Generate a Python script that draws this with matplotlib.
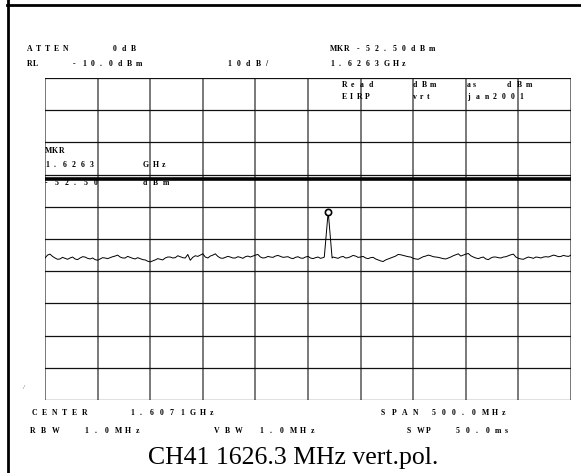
import numpy as np
import matplotlib
matplotlib.use("Agg")
import matplotlib.pyplot as plt
from matplotlib.lines import Line2D

# ---------------- data ----------------
center_mhz = 1607.1
span_mhz = 500.0
ref_level = -10.0
db_per_div = 10.0

# trace samples (coarse points)
noise_dbm = [
    -65.9, -64.7, -65.9, -66.2, -66.0, -65.9, -66.2, -65.9, -65.6, -66.2,
    -66.4, -66.2, -65.9, -65.8, -65.3, -65.6, -65.9, -65.7, -66.2, -66.1,
    -66.5, -67.1, -66.5, -66.3, -65.9, -65.6, -65.8, -65.5, -65.9, -66.6,
    -65.2, -65.0, -65.6, -65.3, -64.6, -65.9, -65.7, -65.6, -65.9, -65.7,
    -65.5, -65.6, -65.0, -65.6, -65.8, -65.6, -65.3, -65.4, -65.6, -65.9,
    -65.7, -65.9, -65.6, -65.9, -65.8, -66.0, -65.6, -65.9, -65.8, -65.6,
    -65.9, -65.5, -65.3, -65.6, -65.9, -65.8, -66.2, -66.8, -66.5, -65.9,
    -65.3, -64.9, -65.3, -65.6, -66.2, -65.9, -65.3, -65.2, -65.6, -65.9,
    -66.2, -65.6, -64.9, -65.3, -64.7, -65.2, -65.9, -65.8, -66.2, -65.9,
    -65.6, -65.9, -65.5, -64.9, -65.6, -66.2, -65.9, -65.8, -65.6, -65.9,
    -65.5, -65.3, -65.2, -65.4, -65.3, -65.0,
]
# trace samples in between the coarse points
noise_mid_dbm = [
    -65.0, -65.4, -66.3, -65.7, -66.3, -65.6, -66.4, -65.5, -66.0, -65.9,
    -66.6, -65.8, -66.1, -65.5, -65.0, -65.9, -65.4, -66.0, -65.8, -66.4,
    -66.9, -66.8, -66.1, -66.5, -65.6, -65.9, -65.2, -65.8, -64.8, -65.7,
    -65.4, -64.6, -65.9, -65.0, -65.4, -66.0, -65.4, -65.9, -65.5, -66.0,
    -65.3, -65.3, -64.8, -65.9, -65.4, -65.7, -65.1, -65.7, -65.5, -66.1,
    -65.5, -66.0, -65.4, -66.1, -65.6, -65.8, -65.7, -65.6, -66.0, -65.4,
    -65.8, -65.1, -65.7, -65.4, -66.1, -65.7, -66.5, -67.0, -66.2, -65.6,
    -64.8, -65.1, -65.5, -66.0, -66.3, -65.5, -65.0, -65.5, -65.7, -66.1,
    -65.9, -65.2, -64.6, -65.0, -64.5, -65.6, -66.1, -65.6, -66.4, -65.6,
    -65.8, -65.6, -65.2, -64.7, -66.0, -66.3, -65.6, -66.0, -65.7, -65.6,
    -65.6, -65.0, -65.5, -65.1, -65.4,
]
peak_freq = [1622.6, 1626.3, 1630.0]
peak_dbm = [-65.6, -51.5, -65.9]

marker_freq = 1626.3
display_line = -41.4

# ---------------- figure ----------------
W, H = 581, 473
fig = plt.figure(figsize=(W / 100, H / 100), dpi=100)

def px(x, y):
    return x / W, 1 - y / H

ax = fig.add_axes([45 / W, 1 - 400 / H, 526 / W, 322 / H])
f_lo = center_mhz - span_mhz / 2
f_hi = center_mhz + span_mhz / 2
ax.set_xlim(f_lo, f_hi)
ax.set_ylim(ref_level - 10 * db_per_div, ref_level)

# grid
for f in np.linspace(f_lo, f_hi, 11):
    ax.axvline(f, color="#555555", lw=1.1, zorder=1)
for l in np.linspace(ref_level - 10 * db_per_div, ref_level, 11):
    ax.axhline(l, color="#111111", lw=0.9, zorder=1)
ax.set_xticks([])
ax.set_yticks([])
for s in ax.spines.values():
    s.set_visible(False)

# display line
ax.axhline(display_line, color="black", lw=2.6, zorder=2)

# trace
full = []
for i, v in enumerate(noise_dbm):
    full.append(v)
    if i < len(noise_mid_dbm):
        full.append(noise_mid_dbm[i])
nf = np.linspace(f_lo, f_hi, len(full))
nd = np.array(full)
mask = (nf < peak_freq[0]) | (nf > peak_freq[-1])
tf = np.concatenate([nf[mask], peak_freq])
td = np.concatenate([nd[mask], peak_dbm])
order = np.argsort(tf)
ax.plot(tf[order], td[order], color="black", lw=0.7, zorder=3)

# marker
mk_level = max(peak_dbm)
ax.plot([marker_freq], [mk_level], marker="o", ms=4.5, mfc="white",
        mec="black", mew=1.2, zorder=4, clip_on=False)

# ---------------- texts ----------------
FS = 5.6
def st(x, y, s, pitch, fs=FS):
    for i, ch in enumerate(s):
        if ch == " ":
            continue
        fx, fy = px(x + i * pitch, y)
        fig.text(fx, fy, ch, fontsize=fs, family="Liberation Serif",
                 weight="bold", ha="left", va="center")

st(27, 49, "ATTEN", 9)
st(113, 49, "0dB", 9)
st(27, 64, "RL", 6)
st(73, 64, "-10.0dBm", 9)
st(227, 64, "10dB/", 9.5)
st(330, 49, "MKR", 7)
st(357, 49, "-52.50dBm", 9)
st(330, 64, "1.6263GHz", 9)

st(342, 85, "Read", 9)
st(413, 85, "dBm", 8.5)
st(467, 85, "as", 6)
st(507, 85, "dBm", 9.5)
st(342, 97, "EIRP", 7.5)
st(413, 97, "vrt", 7)
st(467, 97, "jan2001", 8.7)

st(45, 151, "MKR", 7)
st(45, 165, "1.6263", 9)
st(143, 165, "GHz", 9.5)
st(45, 183, "-52.50", 9.7)
st(143, 183, "dBm", 10)

st(32, 413, "CENTER", 9.9)
st(130, 413, "1.6071GHz", 10)
st(381, 413, "SPAN", 10.5)
st(432, 413, "500.0MHz", 10)
st(30, 431, "RBW", 11)
st(84, 431, "1.0MHz", 10.3)
st(214, 431, "VBW", 10.5)
st(259, 431, "1.0MHz", 10.3)
st(407, 431, "SWP", 9.5)
st(456, 431, "50.0ms", 9.8)

fx, fy = px(23, 387)
fig.text(fx, fy, "/", fontsize=4.5, family="Liberation Serif",
         style="italic", ha="center", va="center", color="#444444")

fx, fy = px(293, 458)
fig.text(fx, fy, "CH41 1626.3 MHz vert.pol.", fontsize=18.5,
         family="Liberation Serif", ha="center", va="center")

# outer frame lines
fig.add_artist(Line2D([7.5 / W, 7.5 / W], [0, 1], color="black", lw=2.0,
                      transform=fig.transFigure))
fig.add_artist(Line2D([7 / W, 1], [1 - 5.5 / H, 1 - 5.5 / H], color="black",
                      lw=2.0, transform=fig.transFigure))

fig.savefig("out.png", dpi=100, facecolor="white")
